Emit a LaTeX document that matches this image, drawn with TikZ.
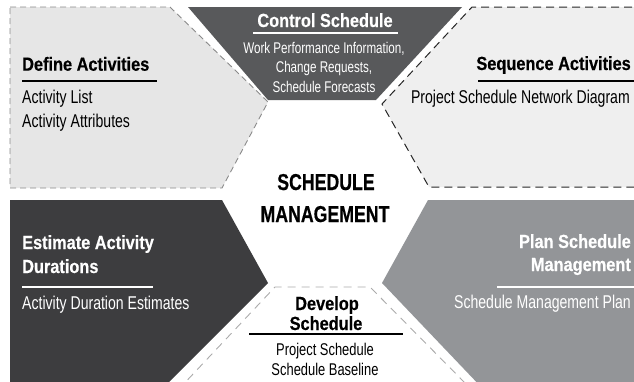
\documentclass[tikz,border=0pt]{standalone}
\usepackage{fontspec}
\newfontfamily\rfont[FakeStretch=0.76]{Liberation Sans}
\newfontfamily\sfontx[FakeStretch=0.75]{Liberation Sans}
\newfontfamily\bfont[FakeStretch=0.86,FakeBold=0.4]{Liberation Sans}
\newfontfamily\cfont[FakeStretch=0.77,FakeBold=0.5]{Liberation Sans}
\definecolor{lightA}{HTML}{E6E6E6}
\definecolor{lightB}{HTML}{EFEFEF}
\definecolor{darkA}{HTML}{58595B}
\definecolor{darkB}{HTML}{3D3D3F}
\definecolor{midG}{HTML}{939598}
\definecolor{dashG}{HTML}{8A8A8A}
\definecolor{dashL}{HTML}{ABABAB}
\tikzset{
  ttl/.style={inner sep=0pt, font=\bfont\bfseries\fontsize{19}{21}\selectfont},
  big/.style={inner sep=0pt, font=\rfont\fontsize{18.5}{20}\selectfont},
  small/.style={inner sep=0pt, font=\sfontx\fontsize{15.5}{17}\selectfont},
  mid/.style={inner sep=0pt, font=\rfont\fontsize{17}{18}\selectfont},
  ctr/.style={inner sep=0pt, font=\cfont\bfseries\fontsize{23}{25}\selectfont},
  rule/.style={line width=1.4pt},
}
\begin{document}
\begin{tikzpicture}[x=1pt,y=-1pt]
\useasboundingbox (0,0) rectangle (634,381);
\clip (0,0) rectangle (634,381);
% shapes
\fill[lightA] (10,7) -- (170,7) -- (268,102) -- (222,188) -- (10,188) -- cycle;
\draw[dashG, line width=0.9pt, dash pattern=on 6pt off 4pt] (10,7) -- (170,7) -- (268,102) -- (222,188) -- (10,188) -- cycle;
\fill[darkA] (188,7) -- (462,7) -- (376,100) -- (268,100) -- cycle;
\fill[lightB] (472,7) -- (645,7) -- (645,187) -- (429,187) -- (382,104) -- cycle;
\draw[black!85, line width=1pt, dash pattern=on 8pt off 5pt] (645,7) -- (472,7) -- (382,104) -- (429,187) -- (645,187);
\fill[darkB] (10,200) -- (222,200) -- (268,283) -- (161,390) -- (10,390) -- cycle;
\fill[midG] (428,200) -- (645,200) -- (645,390) -- (484,390) -- (382,283) -- cycle;
\draw[dashL, line width=0.9pt, dash pattern=on 8pt off 6pt] (178,390) -- (275,287) -- (370,287) -- (472,390);
% Define Activities
\node[ttl, anchor=base west] (defT) at (22,70.7) {Define Activities};
\draw[rule, black] (22,81) -- (157,81);
\node[big, anchor=base west] (defA) at (22,103) {Activity List};
\node[big, anchor=base west] (defB) at (22,127) {Activity Attributes};
% Control Schedule
\node[ttl, anchor=base, text=white] (conT) at (325,27) {Control Schedule};
\draw[rule, white, line width=1.2pt] (253,33) -- (398,33);
\node[small, anchor=base, text=white] (conA) at (324,53) {Work Performance Information,};
\node[small, anchor=base, text=white] (conB) at (324,72.5) {Change Requests,};
\node[small, anchor=base, text=white] (conC) at (324,92) {Schedule Forecasts};
% Sequence Activities
\node[ttl, anchor=base east] (seqT) at (631,70) {Sequence Activities};
\draw[rule, black] (478,81) -- (634,81);
\node[big, anchor=base east] (seqA) at (630,103) {Project Schedule Network Diagram};
% Center
\node[ctr, anchor=base] (cenA) at (326,190) {SCHEDULE};
\node[ctr, anchor=base] (cenB) at (325,222) {MANAGEMENT};
% Estimate Activity Durations
\node[ttl, anchor=base west, text=white] (estT) at (22,249) {Estimate Activity};
\node[ttl, anchor=base west, text=white] (estU) at (22,273) {Durations};
\draw[rule, white, line width=1.2pt] (22,287) -- (153,287);
\node[big, anchor=base west, text=white] (estA) at (22,309) {Activity Duration Estimates};
% Develop Schedule
\node[ttl, anchor=base] (devT) at (327,310) {Develop};
\node[ttl, anchor=base] (devU) at (326,330) {Schedule};
\draw[rule, black] (249,334) -- (403,334);
\node[mid, anchor=base] (devA) at (325,355) {Project Schedule};
\node[mid, anchor=base] (devB) at (325,375) {Schedule Baseline};
% Plan Schedule Management
\node[ttl, anchor=base east, text=white] (plaT) at (631,248) {Plan Schedule};
\node[ttl, anchor=base east, text=white] (plaU) at (631,271) {Management};
\draw[rule, white, line width=1.2pt] (497,287) -- (634,287);
\node[big, anchor=base east, text=white] (plaA) at (631,308) {Schedule Management Plan};
\end{tikzpicture}
\end{document}
